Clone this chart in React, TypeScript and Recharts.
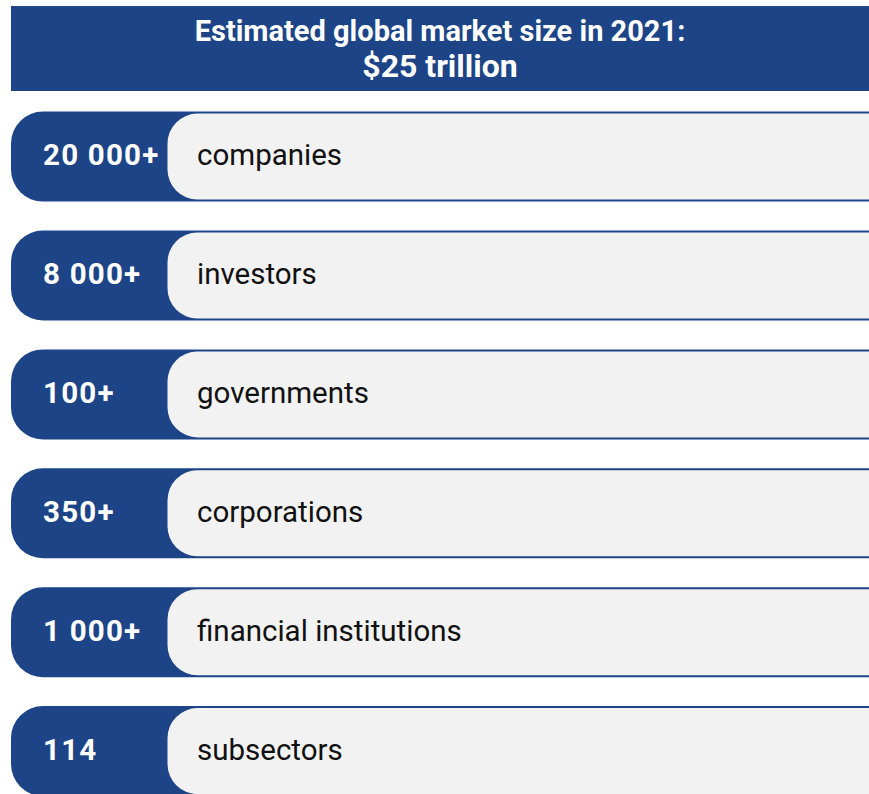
import React from "react";
import { BarChart, Bar, XAxis, YAxis } from "recharts";

const titleLines = ["Estimated global market size in 2021:", "$25 trillion"];
const titleSizes = [29, 32];
const counts = ["20 000+", "8 000+", "100+", "350+", "1 000+", "114"];
const groups = ["companies", "investors", "governments", "corporations", "financial institutions", "subsectors"];
const rowSpan = [1, 1, 1, 1, 1, 1];

const data = groups.map((g, i) => ({ group: g, count: counts[i], span: rowSpan[i] }));

const BLUE = "#1D4486";
const GRAY = "#F2F2F2";
const FONT = "Roboto, 'Noto Sans', sans-serif";

function leftRoundedPath(x: number, y: number, w: number, h: number, r: number) {
  return `M${x + r},${y} L${x + w},${y} L${x + w},${y + h} L${x + r},${y + h} A${r},${r} 0 0 1 ${x},${y + h - r} L${x},${y + r} A${r},${r} 0 0 1 ${x + r},${y} Z`;
}

const RowShape = (props: any) => {
  const { x, y, width, height, payload } = props;
  const grayX = 167.5;
  const line = 2;
  const cy = y + height / 2;
  return (
    <g>
      <path d={leftRoundedPath(x, y, width, height, 32)} fill={BLUE} />
      <path d={leftRoundedPath(grayX, y + line, x + width - grayX, height - 2 * line, 30)} fill={GRAY} />
      <text x={43} y={cy + 8.5} fill="#ffffff" fontFamily={FONT} fontWeight={700} fontSize={29.5} letterSpacing={1.2}>
        {payload.count}
      </text>
      <text x={197} y={cy + 8.5} fill="#111111" fontFamily={FONT} fontWeight={400} fontSize={29.5}>
        {payload.group}
      </text>
    </g>
  );
};

export default function App() {
  return (
    <div style={{ position: "fixed", left: 0, top: 0, width: 869, height: 794, overflow: "hidden", background: "#fff" }}>
      <div
        style={{
          position: "absolute",
          left: 11,
          top: 6,
          width: 858,
          height: 85,
          background: BLUE,
          color: "#fff",
          fontFamily: FONT,
          fontWeight: 700,
          lineHeight: "35px",
          textAlign: "center",
          paddingTop: 8,
          boxSizing: "border-box",
        }}
      >
        {titleLines.map((t, i) => (
          <div key={t} style={{ fontSize: titleSizes[i] }}>{t}</div>
        ))}
      </div>
      <BarChart
        width={869}
        height={811}
        data={data}
        layout="vertical"
        margin={{ top: 97.6, right: 0, bottom: 0, left: 11 }}
        barSize={90}
      >
        <XAxis type="number" domain={[0, 1]} hide />
        <YAxis type="category" dataKey="group" hide />
        <Bar dataKey="span" isAnimationActive={false} shape={RowShape} />
      </BarChart>
    </div>
  );
}
